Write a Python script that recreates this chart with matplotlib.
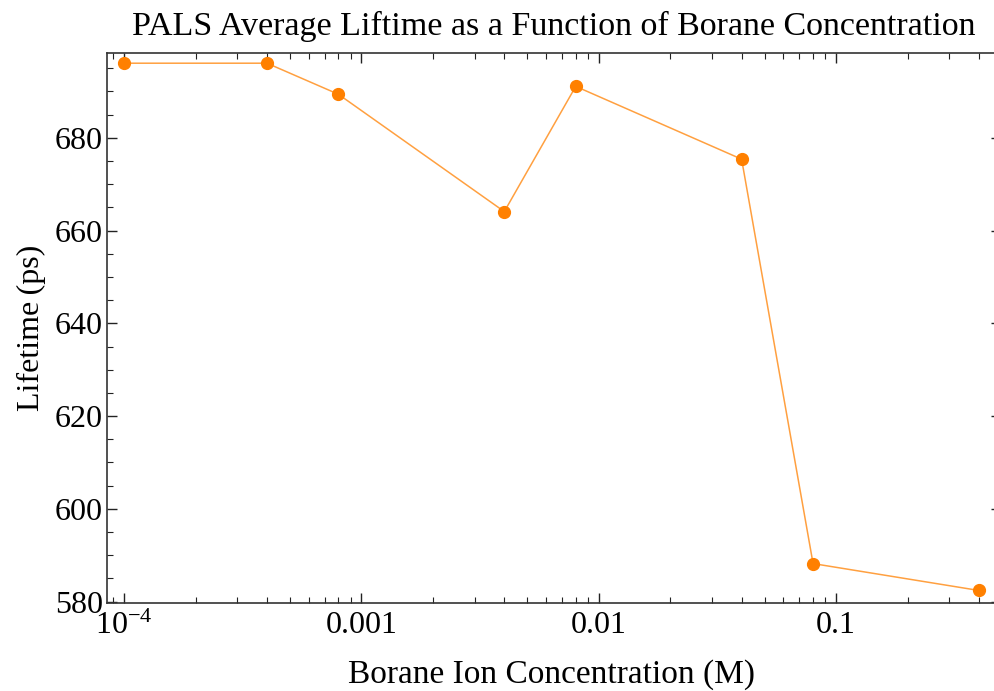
import matplotlib
matplotlib.use("Agg")
import matplotlib.pyplot as plt
from matplotlib.ticker import FixedLocator, NullFormatter
import numpy as np

# data
concentration = [1e-4, 4e-4, 8e-4, 4e-3, 8e-3, 4e-2, 8e-2, 0.4]
lifetime = [696.1, 696.1, 689.4, 664.1, 691.1, 675.4, 588.2, 582.4]

x_ticks = [1e-4, 1e-3, 1e-2, 1e-1]
x_tick_labels = [r"$10^{-4}$", "0.001", "0.01", "0.1"]
y_ticks = [580, 600, 620, 640, 660, 680]

plt.rcParams['font.family'] = ['Liberation Serif', 'DejaVu Serif']
plt.rcParams['mathtext.fontset'] = 'custom'
plt.rcParams['mathtext.rm'] = 'Liberation Serif'
plt.rcParams['mathtext.it'] = 'Liberation Serif:italic'

fig = plt.figure(figsize=(9.95, 6.91), dpi=100)
# right frame edge sits just past the image border, as in the reference
ax = fig.add_axes([107 / 995, 1 - 603 / 691, 894 / 995, 550 / 691])

ax.plot(concentration, lifetime, color='#ffa040', linewidth=1.1, zorder=2)
ax.plot(concentration, lifetime, linestyle='none', marker='o', markersize=8.5,
        color='#ff8000', zorder=3)

ax.set_xscale('log')
ax.set_xlim(10 ** -4.072, 10 ** -0.305)
ax.set_ylim(579.7, 698.3)

ax.xaxis.set_major_locator(FixedLocator(x_ticks))
ax.set_xticklabels(x_tick_labels)
minor_x = [m * 10.0 ** e for e in range(-5, 1) for m in range(2, 10)]
ax.xaxis.set_minor_locator(FixedLocator(minor_x))
ax.xaxis.set_minor_formatter(NullFormatter())

ax.set_yticks(y_ticks)
ax.yaxis.set_minor_locator(FixedLocator(np.arange(575, 705, 5)))

ax.tick_params(which='both', direction='in', top=True, right=True,
               color='#222222', labelsize=23)
ax.tick_params(axis='y', pad=3)
ax.tick_params(axis='x', pad=6)
ax.tick_params(which='major', length=7, width=1)
ax.tick_params(which='minor', length=4, width=0.8)

for s in ax.spines.values():
    s.set_color('#333333')
    s.set_linewidth(1.2)

ax.set_title('PALS Average Liftime as a Function of Borane Concentration',
             fontsize=24.5, pad=13)
ax.set_xlabel('Borane Ion Concentration (M)', fontsize=24)
ax.xaxis.set_label_coords(0.497, -0.103)
ax.set_ylabel('Lifetime\u2009(ps)', fontsize=23, labelpad=6)

fig.savefig('out.png', dpi=100)
